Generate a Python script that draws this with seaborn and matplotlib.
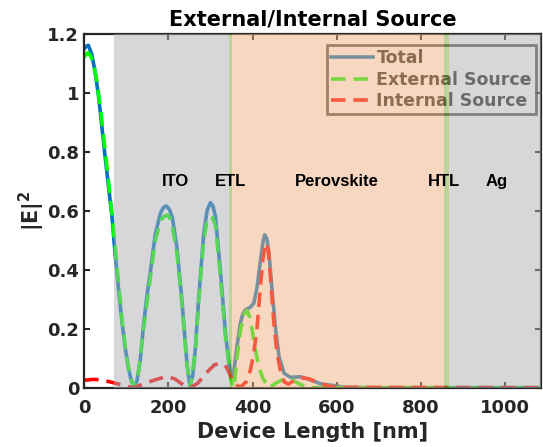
import pandas as pd
import matplotlib
matplotlib.use("Agg")
import matplotlib.pyplot as plt
import seaborn as sns

# |E|^2 profiles (device length in nm)
total_x = [0, 5, 10, 18, 26, 34, 42, 50, 58, 66, 74, 82, 90, 98, 106, 112, 118,
           125, 133, 141, 149, 157, 169, 181, 188, 195, 202, 209, 220, 232, 244,
           251, 258, 264, 272, 284, 292, 300, 306, 312, 324, 336, 348, 353,
           363, 371, 377, 383, 395, 403, 411, 419, 425, 429, 434, 439, 447, 455,
           463, 475, 490, 514, 538, 562, 593, 620, 700, 1085]
total_y = [1.148, 1.157, 1.16, 1.13, 1.07, 0.99, 0.885, 0.78, 0.68, 0.58, 0.445,
           0.33, 0.22, 0.13, 0.06, 0.025, 0.003,
           0.02, 0.09, 0.21, 0.31, 0.39, 0.52, 0.59, 0.61, 0.616, 0.605, 0.58,
           0.48, 0.30, 0.085,
           0.009, 0.04, 0.13, 0.30, 0.52, 0.60, 0.627, 0.615, 0.58, 0.39, 0.18,
           0.04, 0.025,
           0.139, 0.218, 0.25, 0.263, 0.273, 0.286, 0.342, 0.433, 0.495, 0.518,
           0.505, 0.456, 0.32, 0.196,
           0.105, 0.049, 0.035, 0.037, 0.026, 0.013, 0.007, 0.001, 0.0, 0.0]

ext_x = [0, 8, 15, 22, 30, 40, 50, 60, 70, 80, 90, 100, 110, 119,
         130, 141, 157, 169, 183, 190, 197, 204, 209, 220, 232, 244, 252,
         264, 272, 284, 291, 298, 305, 312, 324, 336, 348, 356,
         363, 371, 380, 387, 393, 399, 407, 415, 425, 440,
         455, 475, 495, 515, 540, 1085]
ext_y = [1.12, 1.135, 1.125, 1.10, 1.04, 0.93, 0.80, 0.67, 0.53, 0.38, 0.23,
         0.11, 0.03, 0.0,
         0.06, 0.20, 0.37, 0.50, 0.57, 0.58, 0.585, 0.575, 0.55, 0.46, 0.29,
         0.08, 0.0,
         0.12, 0.29, 0.50, 0.56, 0.58, 0.575, 0.55, 0.37, 0.17, 0.03, 0.0,
         0.10, 0.19, 0.25, 0.262, 0.24, 0.196, 0.128, 0.07, 0.03, 0.0,
         0.015, 0.03, 0.025, 0.01, 0.0, 0.0]

int_x = [0, 20, 40, 60, 80, 100, 118, 140, 165, 195, 215, 235, 251,
         270, 290, 310, 325, 338, 348, 358, 370,
         385, 395, 402, 410, 418, 425, 431, 437, 443, 450, 458, 466, 475,
         485, 500, 515, 535, 555, 580, 600, 1085]
int_y = [0.025, 0.028, 0.027, 0.02, 0.013, 0.005, 0.0, 0.012, 0.025, 0.038,
         0.03, 0.01, 0.0,
         0.015, 0.05, 0.078, 0.083, 0.07, 0.04, 0.015, 0.0,
         0.02, 0.06, 0.11, 0.19, 0.33, 0.44, 0.49, 0.47, 0.37, 0.23, 0.12,
         0.06, 0.02,
         0.012, 0.025, 0.034, 0.03, 0.017, 0.006, 0.001, 0.0]

# layer boundaries [nm] and names
layer_names = ["ITO", "ETL", "Perovskite", "HTL", "Ag"]
layer_edges = [(71, 344), (344, 352), (352, 856), (856, 866), (866, 1085)]
layer_colors = ["#b0aeb2", "#77aa33", "#f1b080", "#77aa33", "#b0aeb2"]
label_x = [217, 348, 600, 856, 980]

plt.rcParams["font.family"] = "DejaVu Sans"
plt.rcParams["font.weight"] = "bold"

fig, ax = plt.subplots(figsize=(5.43, 4.47), dpi=100)
fig.subplots_adjust(left=0.155, right=0.996, bottom=0.1327, top=0.925)

df_tot = pd.DataFrame({"x": total_x, "y": total_y})
df_ext = pd.DataFrame({"x": ext_x, "y": ext_y})
df_int = pd.DataFrame({"x": int_x, "y": int_y})

sns.lineplot(data=df_tot, x="x", y="y", ax=ax, color="#0072bd", lw=2.6,
             label="Total")
sns.lineplot(data=df_ext, x="x", y="y", ax=ax, color="#00ff00", lw=2.6,
             linestyle=(0, (4, 2.2)), label="External Source")
sns.lineplot(data=df_int, x="x", y="y", ax=ax, color="#ff0000", lw=2.6,
             linestyle=(0, (4, 2.2)), label="Internal Source")

leg = ax.legend(loc="upper right", bbox_to_anchor=(0.99, 0.968),
                borderaxespad=0, fontsize=12.5, handlelength=2.4,
                handletextpad=0.2, labelspacing=0.2, borderpad=0.25,
                fancybox=False, frameon=True)
leg.get_frame().set_facecolor("none")
leg.get_frame().set_edgecolor("#262626")
leg.get_frame().set_linewidth(2)
for t in leg.get_texts():
    t.set_color("#262626")
leg.set_zorder(4)

# layer shading on top of everything (semi-transparent)
for (a, b), c in zip(layer_edges, layer_colors):
    ax.axvspan(a, b, color=c, alpha=0.5, lw=0, zorder=5)

for name, xpos in zip(layer_names, label_x):
    ax.text(xpos, 0.698, name, ha="center", va="center", fontsize=12,
            fontweight="bold", family="Liberation Sans", color="black",
            zorder=6)

ax.set_xlim(0, 1085)
ax.set_ylim(0, 1.2)
ax.set_xticks([0, 200, 400, 600, 800, 1000])
ax.set_yticks([0, 0.2, 0.4, 0.6, 0.8, 1.0, 1.2])
ax.set_yticklabels(["0", "0.2", "0.4", "0.6", "0.8", "1", "1.2"])
ax.tick_params(direction="in", length=4, width=1.5, top=True, right=True,
               labelsize=13, colors="#262626")
ax.tick_params(axis="x", pad=8)
for lab in ax.get_xticklabels() + ax.get_yticklabels():
    lab.set_fontweight("bold")
for s in ax.spines.values():
    s.set_linewidth(1.6)
    s.set_color("#262626")

ax.set_xlabel("Device Length [nm]", fontsize=15, fontweight="bold",
              color="#262626", labelpad=4)
ax.set_ylabel(r"|E|$^\mathbf{2}$", fontsize=15, fontweight="bold",
              color="#262626", labelpad=0)
ax.set_title("External/Internal Source", fontsize=15, fontweight="bold",
             pad=6)

fig.savefig("out.png", dpi=100)
